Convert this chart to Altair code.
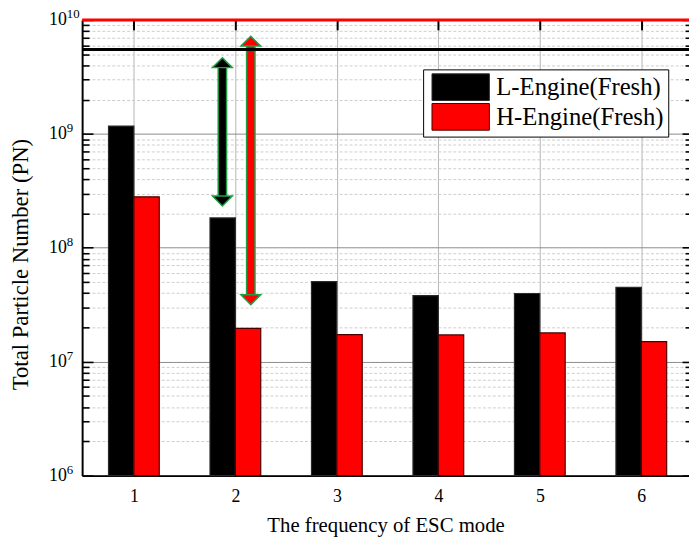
import altair as alt
import pandas as pd

# ---------------- data ----------------
categories = [1, 2, 3, 4, 5, 6]
l_engine = [1.17e9, 1.83e8, 5.04e7, 3.81e7, 3.97e7, 4.50e7]
h_engine = [2.80e8, 1.96e7, 1.73e7, 1.72e7, 1.79e7, 1.50e7]
series_names = ["L-Engine(Fresh)", "H-Engine(Fresh)"]

arrow_names = ["L gap", "H gap"]
arrow_x = [1.872, 2.152]
arrow_top = [4.66e9, 7.2e9]
arrow_bottom = [2.33e8, 3.17e7]

hline_names = ["L level", "H level"]
hline_values = [5.5e9, 1.0e10]

y_major = [1e6, 1e7, 1e8, 1e9, 1e10]
y_major_base = ["10", "10", "10", "10", "10"]
y_major_exp = ["6", "7", "8", "9", "10"]
y_minor = [m * 10 ** e for e in range(6, 10) for m in range(2, 10)]

# ---------------- styles ----------------
series_colors = ["#000000", "#ff0000"]
series_strokes = ["#2a2a2a", "#4a0000"]
arrow_colors = ["#000000", "#ff0000"]
arrow_outline = "#1f9e45"
hline_colors = ["#000000", "#ff0000"]
FONT = "Liberation Serif"

W = 614
H = 461
x_domain = [0.49, 6.47]
y_domain = [1e6, 1e10]
bar_w = 0.25

xscale = alt.Scale(domain=x_domain, nice=False, zero=False)
yscale = alt.Scale(type="log", domain=y_domain, nice=False)

major_test = "abs(log(datum.value)/LN10 - round(log(datum.value)/LN10)) < 0.001"


def label_expr(texts):
    return " : ".join(
        f"abs(datum.value - {v:.0f}) < {v * 0.01:.0f} ? '{t}'" for v, t in zip(y_major, texts)
    ) + " : ''"


# ---------------- frames ----------------
bars_df = pd.DataFrame({
    "cat": categories * 2,
    "series": [series_names[0]] * len(categories) + [series_names[1]] * len(categories),
    "k": [0] * len(categories) + [1] * len(categories),
    "value": l_engine + h_engine,
})
arrows_df = pd.DataFrame({"arrow": arrow_names, "x": arrow_x, "top": arrow_top, "bottom": arrow_bottom})
hlines_df = pd.DataFrame({"line": hline_names, "y": hline_values})

# ---------------- axes ----------------
main_x_axis = alt.Axis(
    orient="bottom", values=categories, title="The frequency of ESC mode",
    titleFont=FONT, titleFontSize=21, titleFontWeight="normal", titleColor="black", titlePadding=10,
    labelFont=FONT, labelFontSize=18, labelColor="black", labelPadding=12, format="d",
    ticks=False, domain=True, domainColor="black", domainWidth=2,
    grid=True, gridColor="#b4b4b4", gridWidth=1,
)
main_y_axis = alt.Axis(
    orient="left", values=y_major + y_minor, labelExpr=label_expr(y_major_base), labelOverlap=False,
    title="Total Particle Number (PN)",
    titleFont=FONT, titleFontSize=23, titleFontWeight="normal", titleColor="black",
    titleX=-55, titleY=247, titleAngle=270, titleBaseline="alphabetic", titleAlign="center",
    labelFont=FONT, labelFontSize=18, labelColor="black", labelPadding=16,
    labelAlign="right", labelBaseline="middle",
    ticks=False, domain=True, domainColor="black", domainWidth=2,
    grid=True,
    gridColor={"condition": {"test": major_test, "value": "#8c8c8c"}, "value": "#cdcdcd"},
    gridDash={"condition": {"test": major_test, "value": []}, "value": [3, 2]},
    gridWidth=1,
)
exp_y_axis = alt.Axis(
    orient="left", values=y_major, labelExpr=label_expr(y_major_exp), labelOverlap=False,
    labelFont=FONT, labelFontSize=13, labelColor="black", labelPadding=16,
    labelAlign="left", labelBaseline="middle", labelOffset=-6,
    ticks=False, domain=False, grid=False, title=None,
)
top_tick_axis = alt.Axis(
    orient="bottom", offset=-H, values=categories, labels=False, domain=False, grid=False,
    title=None, ticks=True, tickSize=10, tickColor="black", tickWidth=2,
)
left_tick_axis = alt.Axis(
    orient="right", offset=-W, values=y_major + y_minor, labels=False, domain=False, grid=False,
    title=None, ticks=True, tickColor="black", tickWidth=1.6,
    tickSize={"condition": {"test": major_test, "value": 11}, "value": 7},
)
right_tick_axis = alt.Axis(
    orient="left", offset=-W, values=y_major + y_minor, labels=False, domain=False, grid=False,
    title=None, ticks=True, tickColor="black", tickWidth=1.6,
    tickSize={"condition": {"test": major_test, "value": 7}, "value": 4},
)

# ---------------- layers ----------------
bars = alt.Chart(bars_df).transform_calculate(
    x0=f"datum.cat - {bar_w} + datum.k * {bar_w}",
    x1=f"datum.cat + datum.k * {bar_w}",
).mark_bar(strokeWidth=1.2).encode(
    x=alt.X("x0:Q", scale=xscale, axis=main_x_axis),
    x2="x1:Q",
    y=alt.Y("value:Q", scale=yscale, axis=main_y_axis),
    y2=alt.datum(1e6),
    fill=alt.Fill(
        "series:N",
        scale=alt.Scale(domain=series_names, range=series_colors),
        legend=alt.Legend(
            orient="none", legendX=345, legendY=50, title=None,
            fillColor="white", strokeColor="black", padding=4,
            symbolType="M-2.15,-1H2.15V1H-2.15Z", symbolSize=729,
            symbolOffset=20, symbolStrokeColor="#222222", symbolStrokeWidth=1,
            labelFont=FONT, labelFontSize=25, labelColor="black", labelOffset=22,
            labelExpr="datum.label + '\u00a0\u00a0'",
            rowPadding=-3, labelLimit=400,
        ),
    ),
    stroke=alt.Stroke("series:N", scale=alt.Scale(domain=series_names, range=series_strokes), legend=None),
)

shaft_outline = alt.Chart(arrows_df).mark_rule(
    strokeWidth=10, color=arrow_outline, yOffset=8, y2Offset=-8
).encode(
    x=alt.X("x:Q", scale=xscale, axis=top_tick_axis),
    y=alt.Y("top:Q", scale=yscale, axis=left_tick_axis),
    y2="bottom:Q",
)

shaft_fill = alt.Chart(arrows_df).mark_rule(
    strokeWidth=7, yOffset=8, y2Offset=-8
).encode(
    x=alt.X("x:Q", scale=xscale, axis=None),
    y=alt.Y("top:Q", scale=yscale, axis=right_tick_axis),
    y2="bottom:Q",
    color=alt.Color("arrow:N", scale=alt.Scale(domain=arrow_names, range=arrow_colors), legend=None),
)

head_up = alt.Chart(arrows_df).mark_point(
    filled=True, shape="M0,0L1,1L-1,1Z", size=400, stroke=arrow_outline, strokeWidth=1.5, opacity=1
).encode(
    x=alt.X("x:Q", scale=xscale, axis=None),
    y=alt.Y("top:Q", scale=yscale, axis=exp_y_axis),
    fill=alt.Fill("arrow:N", scale=alt.Scale(domain=arrow_names, range=arrow_colors), legend=None),
)

head_down = alt.Chart(arrows_df).mark_point(
    filled=True, shape="M0,0L1,-1L-1,-1Z", size=400, stroke=arrow_outline, strokeWidth=1.5, opacity=1
).encode(
    x=alt.X("x:Q", scale=xscale, axis=None),
    y=alt.Y("bottom:Q", scale=yscale, axis=None),
    fill=alt.Fill("arrow:N", scale=alt.Scale(domain=arrow_names, range=arrow_colors), legend=None),
)

hlines = alt.Chart(hlines_df).mark_rule(strokeWidth=3).encode(
    y=alt.Y("y:Q", scale=yscale, axis=None),
    color=alt.Color("line:N", scale=alt.Scale(domain=hline_names, range=hline_colors), legend=None),
)

chart = alt.layer(
    bars, shaft_outline, shaft_fill, head_up, head_down, hlines
).resolve_axis(
    x="independent", y="independent"
).resolve_scale(
    fill="independent", color="independent", stroke="independent"
).resolve_legend(
    fill="independent", color="independent", stroke="independent"
).properties(
    width=W, height=H,
    padding={"left": 75, "top": 9, "right": 0, "bottom": 60},
    autosize=alt.AutoSizeParams(type="none"),
    background="white",
).configure_view(stroke=None)

chart.save("out.html", embed_options={"renderer": "svg", "actions": False})
